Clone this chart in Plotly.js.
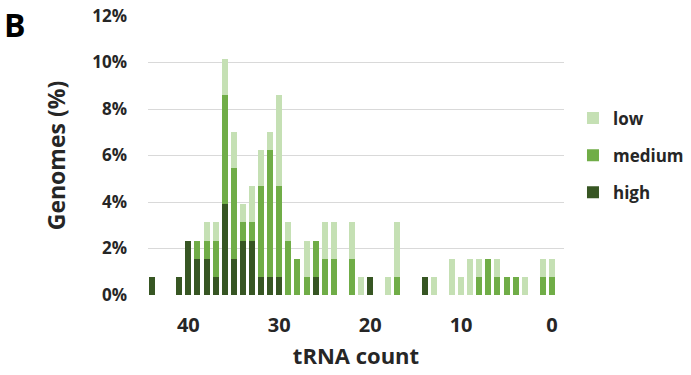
<!DOCTYPE html>
<html>
<head>
<meta charset="utf-8">
<script src="https://cdn.plot.ly/plotly-3.0.1.min.js"></script>
<style>
html,body{margin:0;padding:0;background:#fff;}
#chart{width:691px;height:375px;}
</style>
</head>
<body>
<div id="chart"></div>
<script>
// tRNA count categories (x) and stacked shares (% of genomes)
var trnaCount = [44,41,40,39,38,37,36,35,34,33,32,31,30,29,28,27,26,25,24,22,21,20,18,17,14,13,11,10,9,8,7,6,5,4,3,1,0];
var highPct   = [0.78,0.78,2.34,1.56,1.56,0.78,3.91,1.56,2.34,2.34,0.78,0.78,0.78,0,0,0,0.78,0,0,0,0,0.78,0,0,0.78,0,0,0,0,0,0,0,0,0,0,0,0];
var mediumPct = [0,0,0,0.78,0.78,1.56,4.69,3.91,0.78,0.78,3.91,5.47,3.91,2.34,1.56,0.78,1.56,1.56,1.56,1.56,0,0,0,0.78,0,0,0,0,0,0.78,1.56,0.78,0.78,0.78,0,0.78,0.78];
var lowPct    = [0,0,0,0,0.78,0.78,1.56,1.56,0.78,1.56,1.56,0.78,3.91,0.78,0,1.56,0,1.56,1.56,1.56,0.78,0,0.78,2.34,0,0.78,1.56,0.78,1.56,0.78,0,0.78,0,0,0.78,0.78,0.78];
var xTicks = [40,30,20,10,0];
var yTicks = [0,2,4,6,8,10,12];
var yTickText = ['0%','2%','4%','6%','8%','10%','12%'];

var FONT = '"Open Sans", "Liberation Sans", Arial, sans-serif';
var colors = {high:'#375623', medium:'#70AD47', low:'#C5E0B4'};

function tr(name, vals, col, rank){
  return {type:'bar', name:name, x:trnaCount, y:vals, width:0.66,
    marker:{color:col, line:{width:0}}, legendgroup:name, legendrank:rank, hoverinfo:'skip'};
}
var data = [tr('high', highPct, colors.high, 3), tr('medium', mediumPct, colors.medium, 2), tr('low', lowPct, colors.low, 1)];

var layout = {
  width:691, height:375,
  margin:{l:148, r:127, t:16, b:80, pad:0, autoexpand:false},
  paper_bgcolor:'#fff', plot_bgcolor:'#fff',
  barmode:'stack',
  font:{family:FONT, color:'#262626'},
  xaxis:{
    range:[44.44,-1.32], tickmode:'array', tickvals:xTicks, ticktext:xTicks.map(String),
    showgrid:false, zeroline:false, showline:false, ticks:'',
    tickfont:{size:20, family:FONT, color:'#262626', weight:'bold'},
    ticklabelstandoff:16,
    title:{text:'<b>tRNA count</b>', font:{size:22, family:FONT, color:'#262626'}, standoff:11},
    automargin:false
  },
  yaxis:{
    range:[0,12], tickmode:'array', tickvals:yTicks, ticktext:yTickText,
    showgrid:true, gridcolor:'#D9D9D9', gridwidth:1, zeroline:false, showline:false, ticks:'',
    tickfont:{size:17, family:FONT, color:'#262626', weight:'bold'},
    ticklabelstandoff:20,
    title:{text:'<b>Genomes (%)</b>', font:{size:23, family:FONT, color:'#262626'}, standoff:20},
    automargin:false
  },
  showlegend:true,
  legend:{x:1.0216, xanchor:'left', y:0.5, yanchor:'middle', traceorder:'grouped', tracegroupgap:12,
    font:{size:17, family:FONT, color:'#262626', weight:'bold'}, bgcolor:'rgba(0,0,0,0)'},
  annotations:[{text:'<b>B</b>', xref:'paper', yref:'paper', x:-148/416, y:1+16/279, xanchor:'left', yanchor:'top',
    showarrow:false, font:{size:32, family:FONT, color:'#000'}, xshift:2, yshift:-1}]
};
Plotly.newPlot('chart', data, layout, {displayModeBar:false, staticPlot:true});
</script>
</body>
</html>
